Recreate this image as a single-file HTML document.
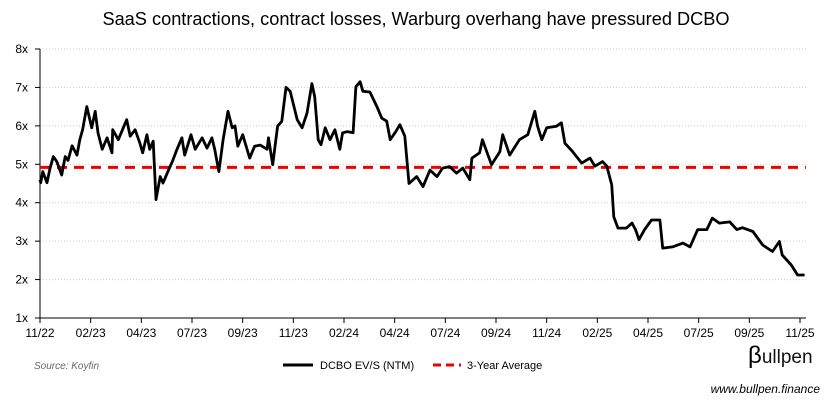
<!DOCTYPE html>
<html><head><meta charset="utf-8"><style>
body{margin:0;background:#fff;}
svg{display:block;font-family:"Liberation Sans",sans-serif;}
</style></head><body>
<svg width="833" height="407" viewBox="0 0 833 407" id="chart">
<text x="416" y="25" text-anchor="middle" font-size="18.2" fill="#000">SaaS contractions, contract losses, Warburg overhang have pressured DCBO</text>
<g id="grid"></g><g id="axes"></g><g id="series"></g>
<text x="34" y="369" font-size="10" font-style="italic" fill="#666">Source: Koyfin</text>
<line x1="283" y1="365" x2="313" y2="365" stroke="#000" stroke-width="3"/>
<text x="320" y="369" font-size="11">DCBO EV/S (NTM)</text>
<line x1="433" y1="365" x2="461" y2="365" stroke="#e00" stroke-width="3" stroke-dasharray="8,5"/>
<text x="467" y="369" font-size="11">3-Year Average</text>
<text x="748" y="363" font-size="19" fill="#111"><tspan font-size="24" fill="#000">β</tspan>ullpen</text>
<text x="820" y="393" text-anchor="end" font-size="12" font-style="italic" fill="#000">www.bullpen.finance</text>
</svg>
<script>
const days=[0,1,4,10,14,19,24,31,36,40,46,53,57,61,67,74,79,83,89,96,103,104,112,124,129,136,143,147,153,157,162,166,172,176,183,190,196,203,207,216,222,232,239,246,250,256,262,269,275,279,283,290,300,307,315,325,327,333,340,346,352,358,368,375,382,389,393,398,402,408,415,422,429,433,440,448,452,458,462,472,482,489,496,501,508,515,522,528,539,548,558,568,576,586,596,605,615,618,629,633,641,646,658,662,672,686,698,708,712,718,725,739,746,751,762,775,787,794,805,811,818,821,827,839,847,852,857,865,875,887,891,905,920,930,941,954,962,972,987,997,1005,1020,1034,1048,1058,1062,1075,1084,1094];
const values=[4.6,4.52,4.81,4.52,4.87,5.2,5.07,4.72,5.2,5.1,5.48,5.24,5.64,5.9,6.5,5.95,6.38,5.82,5.39,5.69,5.3,5.9,5.64,6.16,5.73,5.9,5.55,5.3,5.77,5.39,5.6,4.08,4.68,4.51,4.81,5.1,5.39,5.69,5.24,5.77,5.39,5.69,5.42,5.69,5.39,4.81,5.64,6.38,5.95,6.0,5.47,5.77,5.16,5.47,5.5,5.39,5.69,4.99,5.99,6.12,7.0,6.9,6.16,5.95,6.33,7.1,6.76,5.64,5.51,5.95,5.64,5.9,5.39,5.82,5.85,5.82,7.02,7.15,6.9,6.88,6.5,6.2,6.12,5.64,5.82,6.03,5.73,4.5,4.68,4.42,4.85,4.68,4.9,4.94,4.77,4.9,4.6,5.16,5.3,5.64,5.24,4.99,5.33,5.77,5.24,5.64,5.77,6.38,5.99,5.64,5.95,5.99,6.08,5.55,5.33,5.03,5.16,4.95,5.07,4.95,4.47,3.63,3.34,3.34,3.47,3.3,3.04,3.3,3.55,3.55,2.82,2.85,2.95,2.85,3.3,3.3,3.6,3.47,3.5,3.3,3.35,3.25,2.9,2.73,2.99,2.64,2.38,2.12,2.12];
const average=4.92;
const yTicks=[1,2,3,4,5,6,7,8];
const xLabels=["11/22","02/23","04/23","07/23","09/23","11/23","02/24","04/24","07/24","09/24","11/24","02/25","04/25","07/25","09/25","11/25"];
const NS="http://www.w3.org/2000/svg";
const X0=40,X1=806,Y0=318,Y1=49,DMAX=1096;
const xs=d=>X0+(d/DMAX)*(X1-X0);
const ys=v=>Y0-(v-1)/(8-1)*(Y0-Y1);
function mk(t,a,p){const e=document.createElementNS(NS,t);for(const k in a)e.setAttribute(k,a[k]);p.appendChild(e);return e;}
const grid=document.getElementById('grid'),axes=document.getElementById('axes'),ser=document.getElementById('series');
yTicks.forEach(v=>{
 if(v>1){const g=mk('line',{x1:X0,x2:X1,y1:ys(v),y2:ys(v),stroke:'#ccc','stroke-width':1,'stroke-dasharray':'1,2'},grid);
 
 }
 const tk=mk('line',{x1:X0-5,x2:X0,y1:ys(v),y2:ys(v),stroke:'#000'},axes);
 
 
 const t=mk('text',{x:X0-12,y:ys(v)+4,'text-anchor':'end','font-size':12},axes);t.textContent=v+'x';
 
 
});
const ya=mk('line',{x1:X0,x2:X0,y1:Y1,y2:Y0,stroke:'#000'},axes);


const xa=mk('line',{x1:X0,x2:X1,y1:Y0,y2:Y0,stroke:'#000'},axes);


xLabels.forEach((l,i)=>{
 const xx=X0+i*((800-X0)/(xLabels.length-1));
 const tk=mk('line',{x1:xx,x2:xx,y1:Y0,y2:Y0+5,stroke:'#000'},axes);
 
 
 const t=mk('text',{x:xx,y:Y0+19,'text-anchor':'middle','font-size':12},axes);t.textContent=l;
 
 
});
const av=mk('line',{x1:X0,x2:X1,y1:ys(average),y2:ys(average),stroke:'#e00','stroke-width':3,'stroke-dasharray':'10,7'},ser);


const pts=days.map((d,i)=>xs(d).toFixed(1)+','+ys(values[i]).toFixed(1)).join(' ');
const pl=mk('polyline',{points:pts,fill:'none',stroke:'#000','stroke-width':2.8,'stroke-linejoin':'round'},ser);


</script>
</body></html>
